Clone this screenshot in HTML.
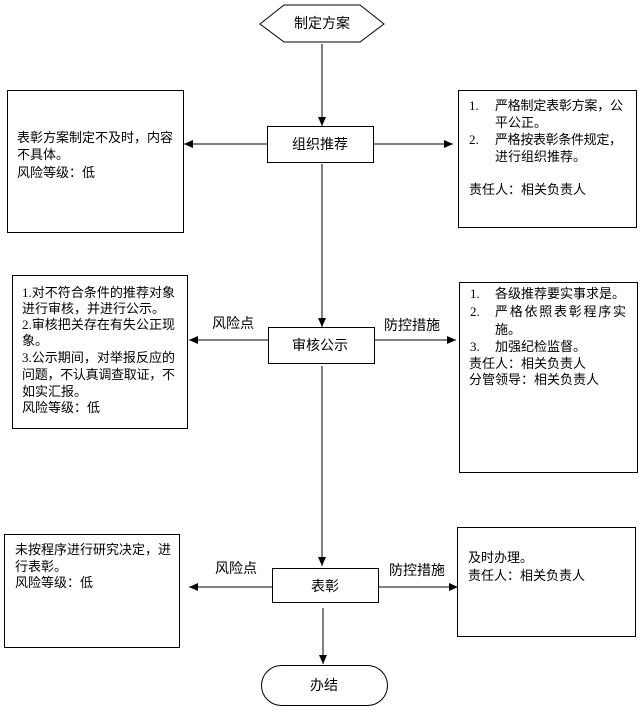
<!DOCTYPE html>
<html>
<head>
<meta charset="utf-8">
<style>
  html,body{margin:0;padding:0;background:#fff;}
  svg{display:block;}
  text{font-family:"Liberation Serif","Noto Sans CJK SC","WenQuanYi Zen Hei",sans-serif;fill:#000;}
  .t13{font-size:13px;}
  .t14{font-size:14px;}
</style>
</head>
<body>
<svg width="641" height="714" viewBox="0 0 641 714" xmlns="http://www.w3.org/2000/svg">
  <defs>
    <marker id="ah" markerWidth="10" markerHeight="10" refX="9" refY="5" orient="auto" markerUnits="userSpaceOnUse">
      <path d="M0,1 L9,5 L0,9 z" fill="#000"/>
    </marker>
  </defs>
  <rect width="641" height="714" fill="#fff"/>

  <!-- Start hexagon -->
  <polygon points="260,24 284,5 360,5 384,24 360,42 284,42" fill="#fff" stroke="#000" stroke-width="1"/>
  <text class="t14" x="322" y="28" text-anchor="middle">制定方案</text>

  <!-- main vertical connectors -->
  <line x1="322" y1="44" x2="322" y2="126" stroke="#000" stroke-width="1" marker-end="url(#ah)"/>
  <line x1="322" y1="164" x2="322" y2="327" stroke="#000" stroke-width="1" marker-end="url(#ah)"/>
  <line x1="322" y1="366" x2="322" y2="566" stroke="#000" stroke-width="1" marker-end="url(#ah)"/>
  <line x1="323" y1="608" x2="323" y2="664" stroke="#000" stroke-width="1" marker-end="url(#ah)"/>

  <!-- 组织推荐 -->
  <rect x="267.5" y="126.5" width="106" height="36" fill="#fff" stroke="#000"/>
  <text class="t14" x="320" y="149" text-anchor="middle">组织推荐</text>
  <line x1="267" y1="144" x2="184" y2="144" stroke="#000" marker-end="url(#ah)"/>
  <line x1="373" y1="144" x2="453" y2="144" stroke="#000" marker-end="url(#ah)"/>

  <!-- Left box 1 -->
  <rect x="7.5" y="90.5" width="176" height="142" fill="#fff" stroke="#000"/>
  <text class="t13" x="17" y="142">表彰方案制定不及时，内容</text>
  <text class="t13" x="17" y="159">不具体。</text>
  <text class="t13" x="17" y="177">风险等级：低</text>

  <!-- Right box 1 -->
  <rect x="458.5" y="90.5" width="178" height="137" fill="#fff" stroke="#000"/>
  <text class="t13" x="469" y="110">1.</text>
  <text class="t13" x="495" y="110" textLength="128" lengthAdjust="spacing">严格制定表彰方案，公</text>
  <text class="t13" x="495" y="127">平公正。</text>
  <text class="t13" x="469" y="144">2.</text>
  <text class="t13" x="495" y="144" textLength="127" lengthAdjust="spacing">严格按表彰条件规定，</text>
  <text class="t13" x="495" y="161">进行组织推荐。</text>
  <text class="t13" x="469" y="194">责任人：相关负责人</text>

  <!-- 审核公示 -->
  <rect x="268.5" y="327.5" width="106" height="36" fill="#fff" stroke="#000"/>
  <text class="t14" x="320" y="350" text-anchor="middle">审核公示</text>
  <line x1="268" y1="340" x2="189" y2="340" stroke="#000" marker-end="url(#ah)"/>
  <line x1="374" y1="340" x2="456" y2="340" stroke="#000" marker-end="url(#ah)"/>
  <text class="t14" x="212" y="328">风险点</text>
  <text class="t14" x="384" y="330">防控措施</text>

  <!-- Left box 2 -->
  <rect x="12.5" y="275.5" width="175" height="153" fill="#fff" stroke="#000"/>
  <text class="t13" x="22" y="297" textLength="153" lengthAdjust="spacing">1.对不符合条件的推荐对象</text>
  <text class="t13" x="22" y="313">进行审核，并进行公示。</text>
  <text class="t13" x="22" y="329" textLength="153" lengthAdjust="spacing">2.审核把关存在有失公正现</text>
  <text class="t13" x="22" y="345">象。</text>
  <text class="t13" x="22" y="362" textLength="153" lengthAdjust="spacing">3.公示期间，对举报反应的</text>
  <text class="t13" x="22" y="379" textLength="153" lengthAdjust="spacing">问题，不认真调查取证，不</text>
  <text class="t13" x="22" y="396">如实汇报。</text>
  <text class="t13" x="22" y="412">风险等级：低</text>

  <!-- Right box 2 -->
  <rect x="459.5" y="282.5" width="178" height="190" fill="#fff" stroke="#000"/>
  <text class="t13" x="470" y="298">1.</text>
  <text class="t13" x="495" y="298">各级推荐要实事求是。</text>
  <text class="t13" x="470" y="316">2.</text>
  <text class="t13" x="495" y="316" textLength="131" lengthAdjust="spacing">严格依照表彰程序实</text>
  <text class="t13" x="495" y="334">施。</text>
  <text class="t13" x="470" y="351">3.</text>
  <text class="t13" x="495" y="351">加强纪检监督。</text>
  <text class="t13" x="469" y="368">责任人：相关负责人</text>
  <text class="t13" x="469" y="384">分管领导：相关负责人</text>

  <!-- 表彰 -->
  <rect x="272.5" y="568.5" width="106" height="34" fill="#fff" stroke="#000"/>
  <text class="t14" x="325" y="591" text-anchor="middle">表彰</text>
  <line x1="272" y1="587" x2="189" y2="587" stroke="#000" marker-end="url(#ah)"/>
  <line x1="378" y1="587" x2="458" y2="587" stroke="#000" marker-end="url(#ah)"/>
  <text class="t14" x="215" y="573">风险点</text>
  <text class="t14" x="389" y="575">防控措施</text>

  <!-- Left box 3 -->
  <rect x="4.5" y="534.5" width="175" height="113" fill="#fff" stroke="#000"/>
  <text class="t13" x="15" y="554">未按程序进行研究决定，进</text>
  <text class="t13" x="15" y="571">行表彰。</text>
  <text class="t13" x="15" y="587">风险等级：低</text>

  <!-- Right box 3 -->
  <rect x="457.5" y="527.5" width="178" height="109" fill="#fff" stroke="#000"/>
  <text class="t13" x="468" y="562">及时办理。</text>
  <text class="t13" x="468" y="580">责任人：相关负责人</text>

  <!-- 办结 -->
  <rect x="261.5" y="665.5" width="126" height="40" rx="20" ry="20" fill="#fff" stroke="#000"/>
  <text class="t14" x="324" y="690" text-anchor="middle">办结</text>
</svg>
</body>
</html>
